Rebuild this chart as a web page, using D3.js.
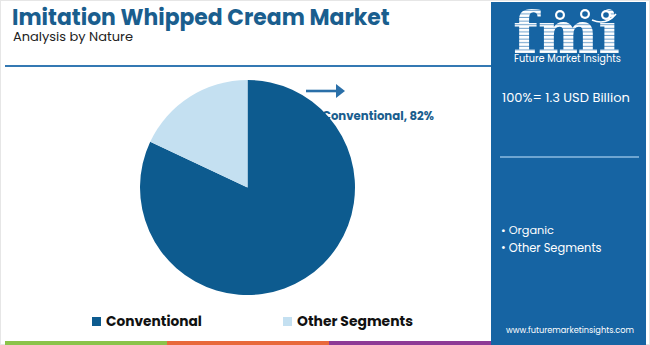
<!DOCTYPE html>
<html><head><meta charset="utf-8">
<script src="https://cdn.jsdelivr.net/npm/d3@7"></script>
<style>html,body{margin:0;padding:0;background:#fff;}svg{display:block;}</style>
</head><body>
<svg id="c" width="650" height="345"></svg>
<script>
const categories = ["Conventional", "Other Segments"];
const values = [82, 18];
const colors = ["#0d5b8f", "#c4e0f1"];
const title = "Imitation Whipped Cream Market";
const subtitle = "Analysis by Nature";
const totalLabel = "100%= 1.3 USD Billion";
const panelItems = ["Organic", "Other Segments"];
const site = "www.futuremarketinsights.com";

const svg = d3.select("#c");
const F = "Poppins, 'Open Sans', Lato, sans-serif";

function fit(sel, target) {
  const n = sel.node();
  const s = parseFloat(sel.attr("font-size"));
  const w = n.getComputedTextLength();
  if (w > 0) sel.attr("font-size", (s * target / w).toFixed(2));
  return sel;
}

// outer faint border
svg.append("rect").attr("x",0.5).attr("y",0.5).attr("width",649).attr("height",344)
  .attr("fill","none").attr("stroke","#e6e6e6");

// title
fit(svg.append("text").attr("x",12).attr("y",24.5).attr("font-family",F).attr("font-weight",700)
  .attr("font-size",21).attr("fill","#1a5e8e").text(title), 378);
fit(svg.append("text").attr("x",13).attr("y",41).attr("font-family",F).attr("font-weight",400)
  .attr("font-size",14).attr("fill","#222").text(subtitle), 120);

// divider line
svg.append("line").attr("x1",5).attr("x2",491).attr("y1",66).attr("y2",66)
  .attr("stroke","#3479b3").attr("stroke-width",2);

// bottom color strip
const strips = [["#8bc34a",5,167],["#e8693b",167,329],["#8e3a96",329,492]];
strips.forEach(s => svg.append("rect").attr("x",s[1]).attr("y",341).attr("width",s[2]-s[1]).attr("height",4).attr("fill",s[0]));

// pie
const cx = 247.5, cy = 187.5, R = 107.5;
const pie = d3.pie().sort(null).startAngle(0).endAngle(2*Math.PI);
const arc = d3.arc().innerRadius(0).outerRadius(R);
const arcs = pie(values);

// label (drawn under the pie)
fit(svg.append("text").attr("x",322).attr("y",120).attr("font-family",F).attr("font-weight",700)
  .attr("font-size",12.5).attr("fill","#1a5e8e").text(`${categories[0]}, ${values[0]}%`), 112);

// arrow
svg.append("line").attr("x1",306).attr("x2",337).attr("y1",91).attr("y2",91)
  .attr("stroke","#2a6fa8").attr("stroke-width",2.6);
svg.append("path").attr("d","M336,84 L345,91 L336,98 Z").attr("fill","#2a6fa8");

svg.append("g").attr("transform",`translate(${cx},${cy})`)
  .selectAll("path").data(arcs).join("path")
  .attr("d",arc).attr("fill",(d,i)=>colors[i]);

// legend
const legX = [92, 283];
const legW = [96, 116];
categories.forEach((c,i)=>{
  svg.append("rect").attr("x",legX[i]).attr("y",317).attr("width",9).attr("height",9).attr("fill",colors[i]);
  fit(svg.append("text").attr("x",legX[i]+14).attr("y",326).attr("font-family",F).attr("font-weight",700)
    .attr("font-size",14).attr("fill","#111").text(c), legW[i]);
});

// right panel
const px = 491, pw = 155;
svg.append("rect").attr("x",px).attr("y",2).attr("width",pw).attr("height",343).attr("fill","#1664a3");

// logo stripes pattern
const defs = svg.append("defs");
const pat = defs.append("pattern").attr("id","stripes").attr("patternUnits","userSpaceOnUse")
  .attr("width",10).attr("height",3.6);
pat.append("rect").attr("width",10).attr("height",3.6).attr("fill","#ffffff");
pat.append("rect").attr("y",2.6).attr("width",10).attr("height",1).attr("fill","#6c9fcb");

const logo = svg.append("text").attr("x",513).attr("y",53).attr("font-family","'DejaVu Serif', serif")
  .attr("font-weight",700).attr("font-size",52).attr("fill","url(#stripes)").text("fmi");
fit(logo, 107);
// icons over logo
[[560,15],[585,14],[606,15]].forEach(p=>{
  svg.append("circle").attr("cx",p[0]).attr("cy",p[1]).attr("r",5).attr("fill","#fff");
  svg.append("circle").attr("cx",p[0]).attr("cy",p[1]).attr("r",2.8).attr("fill","#1664a3");
});
svg.append("path").attr("d","M592,20 Q606,26 616,14").attr("fill","none").attr("stroke","#fff").attr("stroke-width",1.6);
fit(svg.append("text").attr("x",514).attr("y",62).attr("font-family",F).attr("font-size",9.5)
  .attr("fill","#fff").text("Future Market Insights"), 107);

fit(svg.append("text").attr("x",502).attr("y",102).attr("font-family",F).attr("font-size",15)
  .attr("fill","#fff").text(totalLabel), 128);
svg.append("line").attr("x1",500).attr("x2",639).attr("y1",157).attr("y2",157)
  .attr("stroke","#8dbbe0").attr("stroke-width",1.5);

const itemW = [53, 100.5];
panelItems.forEach((t,i)=>{
  fit(svg.append("text").attr("x",501).attr("y",234+i*17.5).attr("font-family",F).attr("font-size",12.5)
    .attr("fill","#fff").text("\u2022 " + t), itemW[i]);
});

fit(svg.append("text").attr("x",506).attr("y",333).attr("font-family",F).attr("font-size",10)
  .attr("fill","#fff").text(site), 128);
</script>
</body></html>
